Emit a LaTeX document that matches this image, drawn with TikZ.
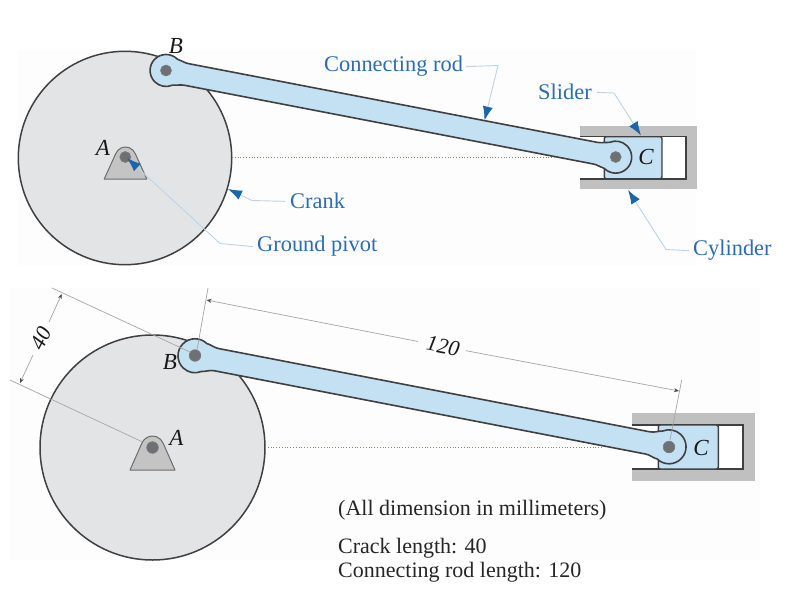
\documentclass[tikz,border=0pt]{standalone}
\usepackage{fontspec}
\setmainfont{Liberation Serif}
\usetikzlibrary{arrows.meta}
\definecolor{panel}{HTML}{FDFDFD}
\definecolor{disc}{HTML}{E3E4E6}
\definecolor{edgec}{HTML}{404042}
\definecolor{rodblue}{HTML}{C4E0F3}
\definecolor{housing}{HTML}{C0C0C0}
\definecolor{pivotc}{HTML}{C4C4C4}
\definecolor{pinc}{HTML}{6F7073}
\definecolor{lead}{HTML}{BCD5E6}
\definecolor{tipblue}{HTML}{1B66A8}
\definecolor{labelblue}{HTML}{2B6CB4}
\definecolor{dimc}{HTML}{A9A5A3}
\tikzset{
  bgpanel/.style={fill=panel,draw=none},
  discshape/.style={fill=disc,draw=edgec,line width=1.5pt},
  rodshape/.style={fill=rodblue,draw=edgec,line width=1.6pt,line join=round},
  houseshape/.style={fill=housing,draw=none},
  boreline/.style={draw=edgec,line width=1.4pt},
  sliderbox/.style={fill=rodblue,draw=edgec,line width=1.4pt,rounded corners=2pt},
  pivotshape/.style={fill=pivotc,draw=gray!85!black,line width=1pt,line join=round},
  pinshape/.style={fill=pinc,draw=edgec!70,line width=.6pt},
  centreline/.style={draw=gray!80!brown,dotted,line width=.8pt},
  callout/.style={draw=lead,line width=.9pt,-{Latex[length=14pt,width=10pt,color=tipblue]}},
  bluetext/.style={text=labelblue,font=\fontsize{22.4}{26}\selectfont,inner sep=0pt,anchor=base west},
  blacktext/.style={text=black!85,font=\fontsize{22}{26}\selectfont,inner sep=0pt,anchor=base west},
  letter/.style={text=black!90,font=\fontsize{23}{26}\selectfont\itshape,inner sep=0pt},
  dimline/.style={draw=dimc,line width=.7pt},
  dimarrow/.style={draw=dimc,line width=.7pt,-{Stealth[length=5pt,width=4pt,color=black!70]}},
}
\begin{document}
\begin{tikzpicture}[x=1pt,y=-1pt]
\useasboundingbox (0,0) rectangle (800,600);
\fill[white] (0,0) rectangle (800,600);
\path[bgpanel] (18,50) rectangle (696,265);
\path[bgpanel] (10,288) rectangle (760,560);

% ---------- top mechanism
\draw[discshape] (125,158) circle[radius=106.7];
\path[houseshape] (580,125.7) rectangle (696.5,189.3);
\fill[white] (580,136.5) rectangle (686,179);
\draw[boreline] (580,136.5) -- (686,136.5) -- (686,179) -- (580,179);
\draw[sliderbox] (604.3,136.7) rectangle (662,178.7);
\begin{scope}[shift={(166,70.5)},rotate=-10.9,x=1pt,y=1pt]
  \draw[rodshape] (21,-11) -- (437,-11)
    .. controls (442,-11) and (445,-13) .. (449,-13.3)
    arc[start angle=-124,end angle=124,radius=16]
    .. controls (445,13) and (442,11) .. (437,11)
    -- (21,11)
    .. controls (16,11) and (13,13) .. (9,13.3)
    arc[start angle=56,end angle=304,radius=16]
    .. controls (13,-13) and (16,-11) .. (21,-11) -- cycle;
\end{scope}
\draw[centreline] (232,157.5) -- (555,157.5);
\begin{scope}[shift={(125.5,157.5)},x=1pt,y=1pt]
  \draw[pivotshape] (-21.3,-21.5) -- (160:10.5) arc[start angle=160,end angle=20,radius=10.5] -- (21.3,-21.5) -- cycle;
\end{scope}
\draw[pinshape] (125.3,157) circle[radius=5.5];
\draw[pinshape] (166,70.5) circle[radius=5.5];
\draw[pinshape] (615.7,157) circle[radius=5.5];
\node[letter] (tA) at (103,148) {A};
\node[letter] (tB) at (176,46) {B};
\node[letter] (tC) at (646,157) {C};

% labels and callouts, top
\node[bluetext] (conn) at (324,71) {Connecting rod};
\node[bluetext] (slid) at (538,99) {Slider};
\node[bluetext] (crank) at (290,208) {Crank};
\node[bluetext] (grnd) at (257,251) {Ground pivot};
\node[bluetext] (cyl) at (693,255) {Cylinder};
\coordinate (connbend) at (498,65.5);
\coordinate (conntip) at (484.5,120.5);
\coordinate (slidbend) at (614,93);
\coordinate (slidtip) at (641,135.5);
\coordinate (crankbend) at (252,200.5);
\coordinate (cranktip) at (228,189);
\coordinate (grndbend) at (220,243.5);
\coordinate (grndtip) at (127,158);
\coordinate (cylbend) at (666,249.5);
\coordinate (cyltip) at (628,190);
\draw[callout] ([xshift=3pt,yshift=-1pt]conn.east) -- (connbend) -- (conntip);
\draw[callout] ([xshift=5pt,yshift=-1pt]slid.east) -- (slidbend) -- (slidtip);
\draw[callout] ([xshift=-5pt,yshift=-1pt]crank.west) -- (crankbend) -- (cranktip);
\draw[callout] ([xshift=-4pt,yshift=-1pt]grnd.west) -- (grndbend) -- (grndtip);
\draw[callout] ([xshift=-4pt,yshift=-1pt]cyl.west) -- (cylbend) -- (cyltip);

% ---------- bottom mechanism
\draw[discshape] (152.5,447.5) circle[radius=112.5];
\path[houseshape] (631.7,413) rectangle (755,481);
\fill[white] (631.7,425) rectangle (743,469);
\draw[boreline] (631.7,425) -- (743,425) -- (743,469) -- (631.7,469);
\draw[sliderbox] (658.3,425) rectangle (718.3,469);
\begin{scope}[shift={(195,355.5)},rotate=-10.93,x=1pt,y=1pt]
  \draw[rodshape] (22,-11.3) -- (460.8,-11.3)
    .. controls (466,-11.3) and (469,-13.7) .. (473.5,-14)
    arc[start angle=-123,end angle=123,radius=17]
    .. controls (469,13.7) and (466,11.3) .. (460.8,11.3)
    -- (22,11.3)
    .. controls (17,11.3) and (14,13.7) .. (9.3,14)
    arc[start angle=57,end angle=303,radius=17]
    .. controls (14,-13.7) and (17,-11.3) .. (22,-11.3) -- cycle;
\end{scope}
\draw[centreline] (265,447.3) -- (603,447.3);
\begin{scope}[shift={(152.5,447.5)},x=1pt,y=1pt]
  \draw[pivotshape] (-22.5,-22.5) -- (160:11.5) arc[start angle=160,end angle=20,radius=11.5] -- (22.5,-22.5) -- cycle;
\end{scope}
\draw[pinshape] (152.5,447.5) circle[radius=5.8];
\draw[pinshape] (195,355.5) circle[radius=5.8];
\draw[pinshape] (669,447) circle[radius=5.8];
\node[letter] (bA) at (176.5,438) {A};
\node[letter] (bB) at (170,362) {B};
\node[letter] (bC) at (701,448) {C};

% dimensions
\coordinate (extAa) at (142,441.7);
\coordinate (extAb) at (10,380);
\coordinate (extBa) at (190,352);
\coordinate (extBb) at (52,288);
\coordinate (extCa) at (197,350);
\coordinate (extCb) at (208,288);
\coordinate (extDa) at (670,440);
\coordinate (extDb) at (681.7,380);
\draw[dimline] (extAa) -- (extAb);
\draw[dimline] (extBa) -- (extBb);
\draw[dimline] (extCa) -- (extCb);
\draw[dimline] (extDa) -- (extDb);
\node[letter,rotate=63,font=\fontsize{22}{26}\selectfont\itshape] (d40) at (41,338.5) {40};
\node[letter,rotate=-11,font=\fontsize{22}{26}\selectfont\itshape] (d120) at (443,346) {120};
\coordinate (d40a) at (20,383);
\coordinate (d40b) at (61.7,294);
\coordinate (d120a) at (206.5,300);
\coordinate (d120b) at (679,391);
\draw[dimarrow] (33,355) -- (d40a);
\draw[dimarrow] (49,322) -- (d40b);
\draw[dimarrow] (418,341.5) -- (d120a);
\draw[dimarrow] (466,350.7) -- (d120b);

% notes
\node[blacktext] (n1) at (338,515) {(All dimension in millimeters)};
\node[blacktext] (n2) at (338,553) {Crack length: 40};
\node[blacktext] (n3) at (338,577) {Connecting rod length: 120};
\end{tikzpicture}
\end{document}
